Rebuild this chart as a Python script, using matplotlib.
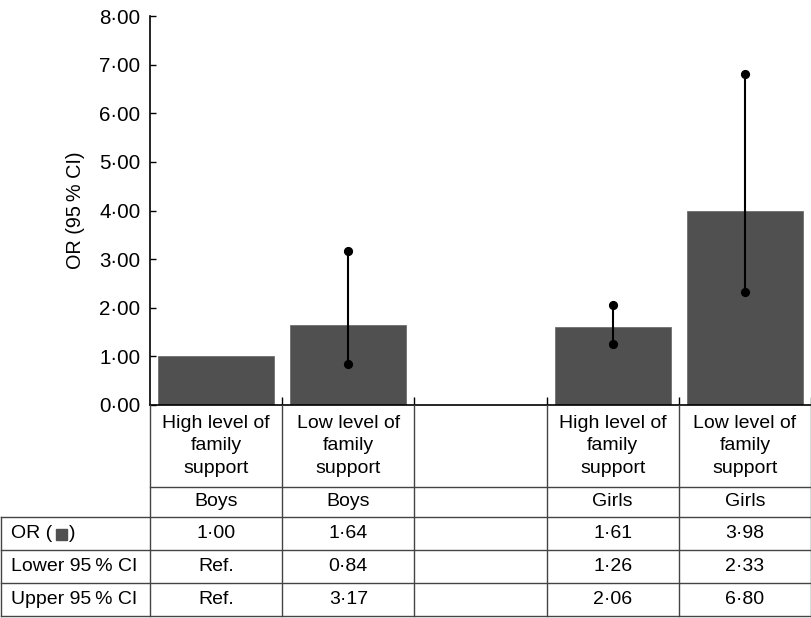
import matplotlib.pyplot as plt
from matplotlib.patches import Rectangle

plt.rcParams['font.family'] = ['Liberation Sans', 'DejaVu Sans']
plt.rcParams['font.size'] = 14

# === data ===
categories = ["High level of\nfamily\nsupport", "Low level of\nfamily\nsupport", "",
              "High level of\nfamily\nsupport", "Low level of\nfamily\nsupport"]
groups = ["Boys", "Boys", "", "Girls", "Girls"]
odds = [1.00, 1.64, None, 1.61, 3.98]
lower = [None, 0.84, None, 1.26, 2.33]
upper = [None, 3.17, None, 2.06, 6.80]
or_labels = ["1·00", "1·64", "", "1·61", "3·98"]
low_labels = ["Ref.", "0·84", "", "1·26", "2·33"]
up_labels = ["Ref.", "3·17", "", "2·06", "6·80"]
yticks = [0, 1, 2, 3, 4, 5, 6, 7, 8]

W, H = 812, 618
bar_color = "#505050"
line_color = "#444444"

fig = plt.figure(figsize=(W / 100, H / 100), dpi=100)

# pixel layout
ax_left, ax_right, ax_top, ax_bot = 150, 811, 16, 405
ax = fig.add_axes([ax_left / W, 1 - ax_bot / H, (ax_right - ax_left) / W, (ax_bot - ax_top) / H])

pos = list(range(1, len(categories) + 1))
for p, v, lo, hi in zip(pos, odds, lower, upper):
    if v is None:
        continue
    ax.bar(p, v, width=0.88, color=bar_color, edgecolor="#6e6e6e", linewidth=0.6, zorder=2)
    if lo is not None:
        ax.plot([p, p], [lo, hi], color="black", lw=1.5, zorder=3)
        ax.plot([p, p], [lo, hi], "o", color="black", ms=5.6, zorder=4)

ax.set_xlim(0.5, len(categories) + 0.5)
ax.set_ylim(0, 8)
ax.set_yticks(yticks)
ax.set_yticklabels([f"{t}·00" for t in yticks], fontsize=14.8)
ax.set_xticks([p + 0.5 for p in pos])
ax.set_xticklabels([])
ax.tick_params(axis="x", direction="in", length=6, width=1)
ax.tick_params(axis="y", direction="in", length=4, width=1, pad=7)
ax.spines["top"].set_visible(False)
ax.spines["right"].set_visible(False)
ax.spines["left"].set_linewidth(1.2)
ax.spines["bottom"].set_linewidth(1.2)
ax.set_ylabel("OR (95\u2009% CI)", fontsize=14.3, labelpad=10)

# === table under the axis (pixel coordinates) ===
tab = fig.add_axes([0, 0, 1, 1])
tab.set_xlim(0, W)
tab.set_ylim(H, 0)
tab.axis("off")
tab.patch.set_alpha(0)

col_w = (ax_right - ax_left) / len(categories)
cols = [ax_left + i * col_w for i in range(len(categories) + 1)]
rows = [405, 487, 517, 550, 583, 616]
lbl_left = 1

# horizontal lines
tab.plot([ax_left, ax_right], [rows[1]] * 2, color=line_color, lw=1)
for r in rows[2:]:
    tab.plot([lbl_left, ax_right], [r, r], color=line_color, lw=1)
# vertical lines
for c in cols:
    tab.plot([c, c], [rows[0], rows[-1]], color=line_color, lw=1)
tab.plot([lbl_left, lbl_left], [rows[2], rows[-1]], color=line_color, lw=1)

fs = 14
for i in range(len(categories)):
    cx = (cols[i] + cols[i + 1]) / 2
    tab.text(cx, (rows[0] + rows[1]) / 2, categories[i], ha="center", va="center",
             fontsize=fs, linespacing=1.45)
    tab.text(cx, (rows[1] + rows[2]) / 2, groups[i], ha="center", va="center", fontsize=fs)
    tab.text(cx, (rows[2] + rows[3]) / 2, or_labels[i], ha="center", va="center", fontsize=fs)
    tab.text(cx, (rows[3] + rows[4]) / 2, low_labels[i], ha="center", va="center", fontsize=fs)
    tab.text(cx, (rows[4] + rows[5]) / 2, up_labels[i], ha="center", va="center", fontsize=fs)

# row labels
t1 = tab.text(11, (rows[2] + rows[3]) / 2, "OR (", ha="left", va="center", fontsize=fs)
tab.text(11, (rows[3] + rows[4]) / 2, "Lower 95\u2009% CI", ha="left", va="center", fontsize=fs)
tab.text(11, (rows[4] + rows[5]) / 2, "Upper 95\u2009% CI", ha="left", va="center", fontsize=fs)

fig.canvas.draw()
bb = t1.get_window_extent()
x_end = bb.x1  # display pixels == data pixels here
ymid = (rows[2] + rows[3]) / 2
tab.add_patch(Rectangle((x_end + 4, ymid - 5), 11, 11, color=bar_color))
tab.text(x_end + 17, ymid, ")", ha="left", va="center", fontsize=fs)

fig.savefig("out.png", dpi=100)
